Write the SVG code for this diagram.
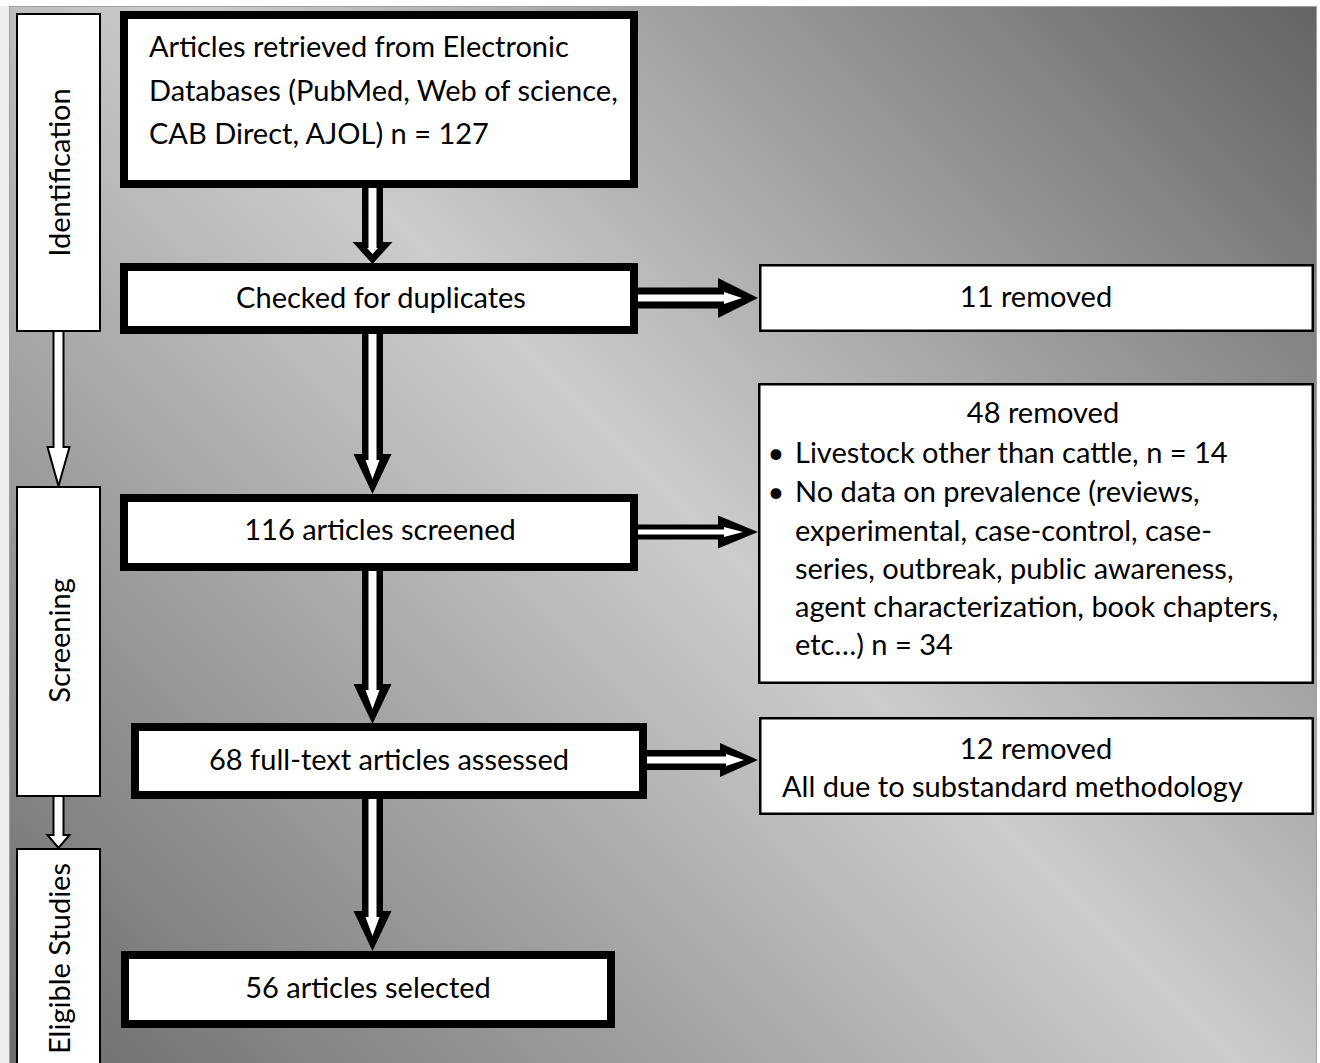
<svg xmlns="http://www.w3.org/2000/svg" width="1320" height="1063" viewBox="0 0 1320 1063">
<defs>
<linearGradient id="bg" gradientUnits="userSpaceOnUse" x1="1317" y1="6" x2="134" y2="1189">
<stop offset="0" stop-color="#646464"/>
<stop offset="0.48" stop-color="#cccccc"/>
<stop offset="1" stop-color="#6c6c6c"/>
</linearGradient>
<style>
.t{font-family:Lato,"Liberation Sans",sans-serif;font-size:29px;fill:#000}
.c{text-anchor:middle}
.main{fill:#fff;stroke:#000;stroke-width:8}
.side{fill:#fff;stroke:#000;stroke-width:2.5}
.lab{fill:#fff;stroke:#000;stroke-width:2}
.ao{fill:#000}
.ai{fill:#fff}
.la{fill:#fff;stroke:#000;stroke-width:2;stroke-linejoin:miter}
</style>
</defs>
<rect x="0" y="0" width="1320" height="1063" fill="#ffffff"/>
<rect x="0" y="6" width="9" height="1057" fill="#eeeeee"/>
<rect x="9.5" y="6.5" width="1307" height="1060" fill="url(#bg)" stroke="#a0a0a0" stroke-width="1"/>

<g id="connectors">
<!-- box1 -> box2 -->
<polygon class="ao" points="362,186 383,186 383,242 392.5,242 372.5,264 352.5,242 362,242"/>
<polygon class="ai" points="368.5,186 376.5,186 376.5,248 378,248 372.5,254 367,248 368.5,248"/>
<!-- box2 -> box3 -->
<polygon class="ao" points="362,332 383,332 383,454 391.5,454 372.5,494 353.5,454 362,454"/>
<polygon class="ai" points="368.5,332 376.5,332 376.5,460 379.5,460 372.5,479 365.5,460 368.5,460"/>
<!-- box3 -> box4 -->
<polygon class="ao" points="362,569 383,569 383,684 391.5,684 372.5,724 353.5,684 362,684"/>
<polygon class="ai" points="368.5,569 376.5,569 376.5,690 379.5,690 372.5,709 365.5,690 368.5,690"/>
<!-- box4 -> box5 -->
<polygon class="ao" points="362,797 383,797 383,911 391.5,911 372.5,951 353.5,911 362,911"/>
<polygon class="ai" points="368.5,797 376.5,797 376.5,917 379.5,917 372.5,936 365.5,917 368.5,917"/>
<!-- box2 -> 11 removed -->
<polygon class="ao" points="636,287.5 718,287.5 718,278 758,298 718,318 718,308.5 636,308.5"/>
<polygon class="ai" points="636,294.5 724,294.5 724,292 742,298 724,304 724,301.5 636,301.5"/>
<!-- box3 -> 48 removed -->
<polygon class="ao" points="636,524.5 718,524.5 718,515.5 758,532 718,548.5 718,539.5 636,539.5"/>
<polygon class="ai" points="636,529.5 724,529.5 724,527 743,532 724,537 724,534.5 636,534.5"/>
<!-- box4 -> 12 removed -->
<polygon class="ao" points="645,750 720,750 720,743 758,760 720,777 720,770 645,770"/>
<polygon class="ai" points="645,756.5 726,756.5 726,754 744,760 726,766 726,763.5 645,763.5"/>
<!-- phase arrows -->
<polygon class="la" points="53.5,331 63.5,331 63.5,447 69.5,447 58.5,486 47.5,447 53.5,447"/>
<polygon class="la" points="53.5,796 63.5,796 63.5,835 69.5,835 58.5,848 47.5,835 53.5,835"/>
</g>

<g id="phase-identification">
<rect class="lab" x="17" y="14" width="83" height="317"/>
<text class="t c" transform="translate(70,172.5) rotate(-90)">Identification</text>
</g>
<g id="phase-screening">
<rect class="lab" x="17" y="487" width="83" height="309"/>
<text class="t c" transform="translate(70,640.5) rotate(-90)">Screening</text>
</g>
<g id="phase-eligible">
<rect class="lab" x="17" y="849" width="83" height="230"/>
<text class="t c" transform="translate(70,958.5) rotate(-90)">Eligible Studies</text>
</g>

<g id="node-retrieved">
<rect class="main" x="124" y="15" width="510" height="169"/>
<text class="t" x="149" y="57">Articles retrieved from Electronic</text>
<text class="t" x="149" y="101">Databases (PubMed, Web of science,</text>
<text class="t" x="149" y="144">CAB Direct, AJOL) n = 127</text>
</g>
<g id="node-duplicates">
<rect class="main" x="124" y="267" width="510" height="63"/>
<text class="t c" x="381" y="308">Checked for duplicates</text>
</g>
<g id="node-screened">
<rect class="main" x="124" y="498" width="510" height="69"/>
<text class="t c" x="380" y="540">116 articles screened</text>
</g>
<g id="node-fulltext">
<rect class="main" x="135" y="727" width="508" height="68"/>
<text class="t c" x="389" y="770">68 full-text articles assessed</text>
</g>
<g id="node-selected">
<rect class="main" x="125" y="955" width="486" height="69"/>
<text class="t c" x="368" y="998">56 articles selected</text>
</g>

<g id="node-removed11">
<rect class="side" x="760.25" y="265.25" width="552.5" height="65.5"/>
<text class="t c" x="1036" y="307">11 removed</text>
</g>
<g id="node-removed48">
<rect class="side" x="759.25" y="384.25" width="553.5" height="298.5"/>
<text class="t c" x="1043" y="423">48 removed</text>
<text class="t c" x="776" y="463">•</text>
<text class="t" x="795" y="463">Livestock other than cattle, n = 14</text>
<text class="t c" x="776" y="502">•</text>
<text class="t" x="795" y="502">No data on prevalence (reviews,</text>
<text class="t" x="795" y="541">experimental, case-control, case-</text>
<text class="t" x="795" y="579">series, outbreak, public awareness,</text>
<text class="t" x="795" y="617">agent characterization, book chapters,</text>
<text class="t" x="795" y="655">etc…) n = 34</text>
</g>
<g id="node-removed12">
<rect class="side" x="760.25" y="718.25" width="552.5" height="95.5"/>
<text class="t c" x="1036" y="759">12 removed</text>
<text class="t" x="782" y="797">All due to substandard methodology</text>
</g>
</svg>
